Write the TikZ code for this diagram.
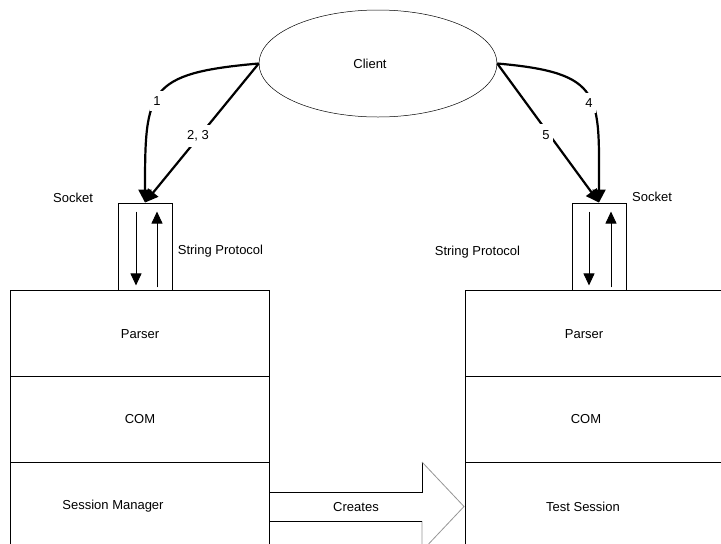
\documentclass[tikz,border=0pt]{standalone}
\usepackage{fontspec}
\setmainfont{Liberation Sans}
\usetikzlibrary{shapes.geometric,arrows.meta,calc}
\definecolor{arrowgray}{RGB}{150,150,150}
\begin{document}
\begin{tikzpicture}[yscale=-1
            ,font=\fontsize{13}{15}\selectfont
            ,boxstyle/.style={color=black,line width=0.9pt}
            ,sockstyle/.style={draw=black,line width=0.9pt,minimum width=54pt,minimum height=87pt,inner sep=0pt}
            ,connstyle/.style={color=black,line width=2.2pt,-{Triangle[length=13pt,width=13pt]}}
            ,pipestyle/.style={color=black,line width=0.9pt,-{Triangle[length=12pt,width=11pt]}}
            ,lblstyle/.style={fill=white,inner xsep=3pt,inner ysep=6pt}
        ]
        \useasboundingbox (0pt,0pt) rectangle (721pt,544pt);
        % client and sockets
        \node[ellipse,draw=black,line width=0.5pt,minimum width=238pt,minimum height=107pt,inner sep=0pt
            ,label={[xshift=-8pt]center:Client}] (client) at (378pt,63.5pt) {};
        \node[sockstyle] (sockL) at (145pt,246.5pt) {};
        \node[sockstyle] (sockR) at (599pt,246.5pt) {};
        \node at (73pt,198pt) (sockLtxt) {Socket};
        \node at (652pt,197pt) (sockRtxt) {Socket};
        \node at (220.5pt,251pt) (protoL) {String Protocol};
        \node at (477.5pt,252pt) (protoR) {String Protocol};
        % pipes inside the sockets
        \draw[pipestyle] ($(sockL.north)+(-9pt,9pt)$) -- ($(sockL.south)+(-9pt,-5pt)$);
        \draw[pipestyle] ($(sockL.south)+(12pt,-3pt)$) -- ($(sockL.north)+(12pt,9pt)$);
        \draw[pipestyle] ($(sockR.north)+(-10pt,9pt)$) -- ($(sockR.south)+(-10pt,-5pt)$);
        \draw[pipestyle] ($(sockR.south)+(12pt,-3pt)$) -- ($(sockR.north)+(12pt,9pt)$);
        % left stack
        \draw[boxstyle] (10.5pt,290pt) rectangle (269.5pt,376pt);
        \draw[boxstyle] (10.5pt,376pt) rectangle (269.5pt,462pt);
        \draw[boxstyle] (10.5pt,462pt) rectangle (269.5pt,548pt);
        \node at (140pt,334pt) (parserL) {Parser};
        \node at (140pt,419pt) (comL) {COM};
        \node at (113pt,506pt) (sessL) {Session Manager};
        % right stack
        \draw[boxstyle] (465pt,290pt) rectangle (730pt,376pt);
        \draw[boxstyle] (465pt,376pt) rectangle (730pt,462pt);
        \draw[boxstyle] (465pt,462pt) rectangle (730pt,548pt);
        \node at (584pt,334pt) (parserR) {Parser};
        \node at (586pt,419pt) (comR) {COM};
        \node at (583pt,507pt) (sessR) {Test Session};
        % connectors
        \draw[connstyle] (client.west) to[out=175,in=-90,looseness=1.6] (sockL.north);
        \draw[connstyle] (client.west) -- (sockL.north);
        \draw[connstyle] (client.east) to[out=5,in=-90,looseness=1.6] (sockR.north);
        \draw[connstyle] (client.east) -- (sockR.north);
        \node[lblstyle] at (157pt,101pt) (l1) {1};
        \node[lblstyle] at (198pt,136pt) (l23) {2, 3};
        \node[lblstyle] at (589pt,103pt) (l4) {4};
        \node[lblstyle] at (546pt,135pt) (l5) {5};
        % creates arrow
        \draw[boxstyle] (269.5pt,492pt) -- (422pt,492pt) -- (422pt,462pt);
        \draw[color=arrowgray,line width=0.8pt] (422pt,462pt) -- (464pt,506.5pt) -- (422pt,551pt) -- (422pt,521pt);
        \draw[boxstyle] (422pt,521pt) -- (269.5pt,521pt);
        \node at (356pt,507pt) (creates) {Creates};
    \end{tikzpicture}
\end{document}
